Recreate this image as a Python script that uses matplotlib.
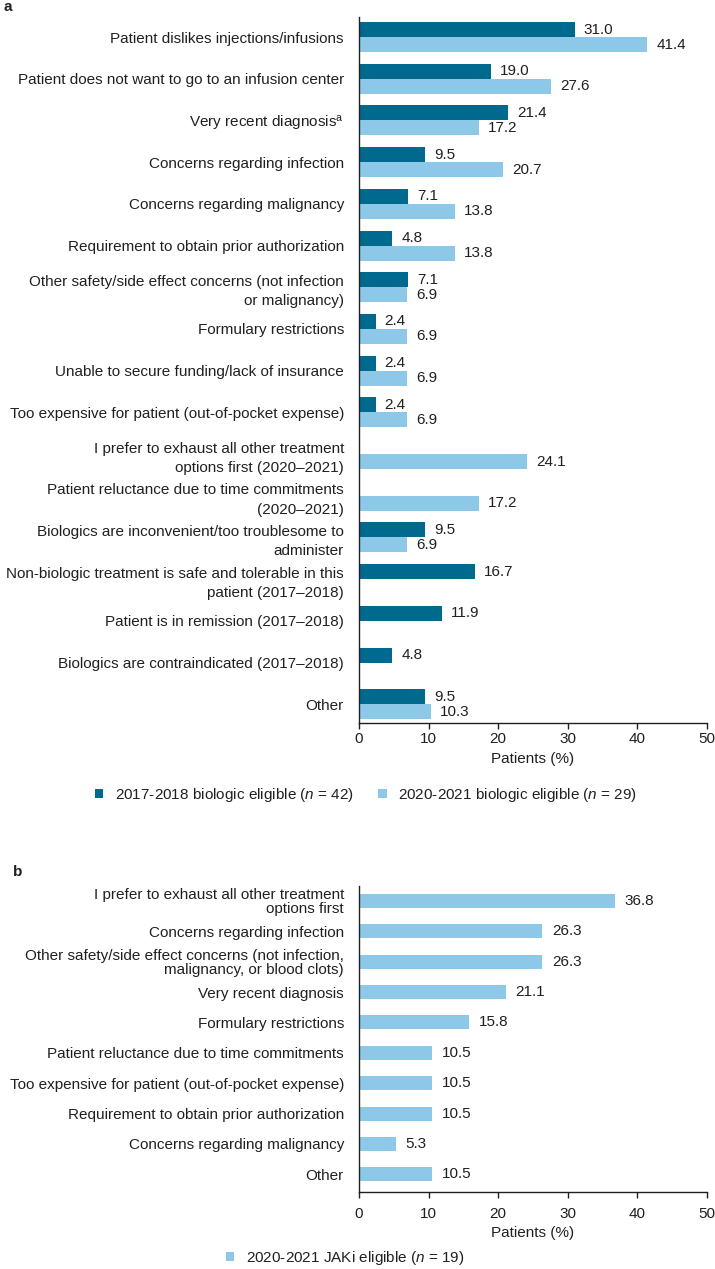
import matplotlib
matplotlib.use("Agg")
import matplotlib.pyplot as plt
from matplotlib.patches import Patch
import numpy as np

plt.rcParams['font.family'] = ['Liberation Sans', 'DejaVu Sans']
plt.rcParams['mathtext.fontset'] = 'custom'
plt.rcParams['mathtext.rm'] = 'Liberation Sans'
plt.rcParams['mathtext.it'] = 'Liberation Sans:italic'

# ---------------- data ----------------
cats_a = [
    "Patient dislikes injections/infusions",
    "Patient does not want to go to an infusion center",
    "Very recent diagnosis$^{\\mathregular{a}}$",
    "Concerns regarding infection",
    "Concerns regarding malignancy",
    "Requirement to obtain prior authorization",
    "Other safety/side effect concerns (not infection\nor malignancy)",
    "Formulary restrictions",
    "Unable to secure funding/lack of insurance",
    "Too expensive for patient (out-of-pocket expense)",
    "I prefer to exhaust all other treatment\noptions first (2020\u20132021)",
    "Patient reluctance due to time commitments\n(2020\u20132021)",
    "Biologics are inconvenient/too troublesome to\nadminister",
    "Non-biologic treatment is safe and tolerable in this\npatient (2017\u20132018)",
    "Patient is in remission (2017\u20132018)",
    "Biologics are contraindicated (2017\u20132018)",
    "Other",
]
vals_2017 = [31.0, 19.0, 21.4, 9.5, 7.1, 4.8, 7.1, 2.4, 2.4, 2.4, None, None, 9.5, 16.7, 11.9, 4.8, 9.5]
vals_2020 = [41.4, 27.6, 17.2, 20.7, 13.8, 13.8, 6.9, 6.9, 6.9, 6.9, 24.1, 17.2, 6.9, None, None, None, 10.3]

cats_b = [
    "I prefer to exhaust all other treatment\noptions first",
    "Concerns regarding infection",
    "Other safety/side effect concerns (not infection,\nmalignancy, or blood clots)",
    "Very recent diagnosis",
    "Formulary restrictions",
    "Patient reluctance due to time commitments",
    "Too expensive for patient (out-of-pocket expense)",
    "Requirement to obtain prior authorization",
    "Concerns regarding malignancy",
    "Other",
]
vals_jaki = [36.8, 26.3, 26.3, 21.1, 15.8, 10.5, 10.5, 10.5, 5.3, 10.5]

xticks = [0, 10, 20, 30, 40, 50]
legend_a = ["2017-2018 biologic eligible ($n$ = 42)", "2020-2021 biologic eligible ($n$ = 29)"]
legend_b = ["2020-2021 JAKi eligible ($n$ = 19)"]

# ---------------- style ----------------
DARK = '#006A8E'
LIGHT = '#8DC8E8'
TXT = '#231F20'
FS = 11.0
W, H = 715, 1269

fig = plt.figure(figsize=(W / 100, H / 100), dpi=100)


def style_axis(ax, labels, pad_x, ls):
    for s in ['top', 'right']:
        ax.spines[s].set_visible(False)
    for s in ['left', 'bottom']:
        ax.spines[s].set_color(TXT)
        ax.spines[s].set_linewidth(1.0)
    ax.set_xlim(0, 50)
    ax.set_xticks(xticks)
    ax.tick_params(axis='x', length=4, width=1, color=TXT, labelsize=FS,
                   labelcolor=TXT, pad=pad_x)
    ax.set_yticks(np.arange(len(labels)))
    ax.set_yticklabels(labels)
    ax.tick_params(axis='y', length=0, pad=15 * 72 / 100, labelsize=FS, labelcolor=TXT)
    for t in ax.get_yticklabels():
        t.set_linespacing(ls)


# ---------------- panel a ----------------
ax_a = fig.add_axes([359 / W, 1 - 723 / H, (707 - 359) / W, (723 - 17) / H])
bh = 0.36
for i, (d, l) in enumerate(zip(vals_2017, vals_2020)):
    if d is not None:
        ax_a.barh(i - bh / 2, d, height=bh, color=DARK, edgecolor='none')
        ax_a.annotate(f"{d:.1f}", (d, i - bh / 2), xytext=(6.5, 0), textcoords='offset points',
                      ha='left', va='center', fontsize=FS, color=TXT)
    if l is not None:
        ax_a.barh(i + bh / 2, l, height=bh, color=LIGHT, edgecolor='none')
        ax_a.annotate(f"{l:.1f}", (l, i + bh / 2), xytext=(6.5, 0), textcoords='offset points',
                      ha='left', va='center', fontsize=FS, color=TXT)
style_axis(ax_a, cats_a, 2.5, 1.5)
ax_a.set_ylim(16.45, -0.48)

fig.text(533 / W, 1 - 759 / H, "Patients (%)", ha='center', va='center', fontsize=FS, color=TXT)
handles_a = [Patch(facecolor=DARK, edgecolor='none'), Patch(facecolor=LIGHT, edgecolor='none')]
fig.legend(handles_a, legend_a, loc='center left', bbox_to_anchor=(95 / W, 1 - 795 / H),
           ncol=2, frameon=False, fontsize=FS, handlelength=0.55, handleheight=0.55,
           handletextpad=0.75, columnspacing=1.6, borderpad=0, borderaxespad=0,
           labelcolor=TXT)
fig.text(3 / W, 1 - 7 / H, "a", ha='left', va='center', fontsize=FS, fontweight='bold', color=TXT)

# ---------------- panel b ----------------
ax_b = fig.add_axes([359 / W, 1 - 1192 / H, (707 - 359) / W, (1192 - 886) / H])
y_b = np.arange(len(cats_b))
ax_b.barh(y_b, vals_jaki, height=0.46, color=LIGHT, edgecolor='none')
for i, v in enumerate(vals_jaki):
    ax_b.annotate(f"{v:.1f}", (v, i), xytext=(7, 0), textcoords='offset points',
                  ha='left', va='center', fontsize=FS, color=TXT)
style_axis(ax_b, cats_b, 7, 0.95)
ax_b.set_ylim(9.58, -0.49)

fig.text(533 / W, 1 - 1233 / H, "Patients (%)", ha='center', va='center', fontsize=FS, color=TXT)
fig.legend([Patch(facecolor=LIGHT, edgecolor='none')], legend_b, loc='center left',
           bbox_to_anchor=(226 / W, 1 - 1258 / H), frameon=False, fontsize=FS,
           handlelength=0.55, handleheight=0.55, handletextpad=0.75, borderpad=0,
           borderaxespad=0, labelcolor=TXT)
fig.text(13 / W, 1 - 872 / H, "b", ha='left', va='center', fontsize=FS, fontweight='bold', color=TXT)

fig.savefig("out.png", dpi=100, facecolor='white')
